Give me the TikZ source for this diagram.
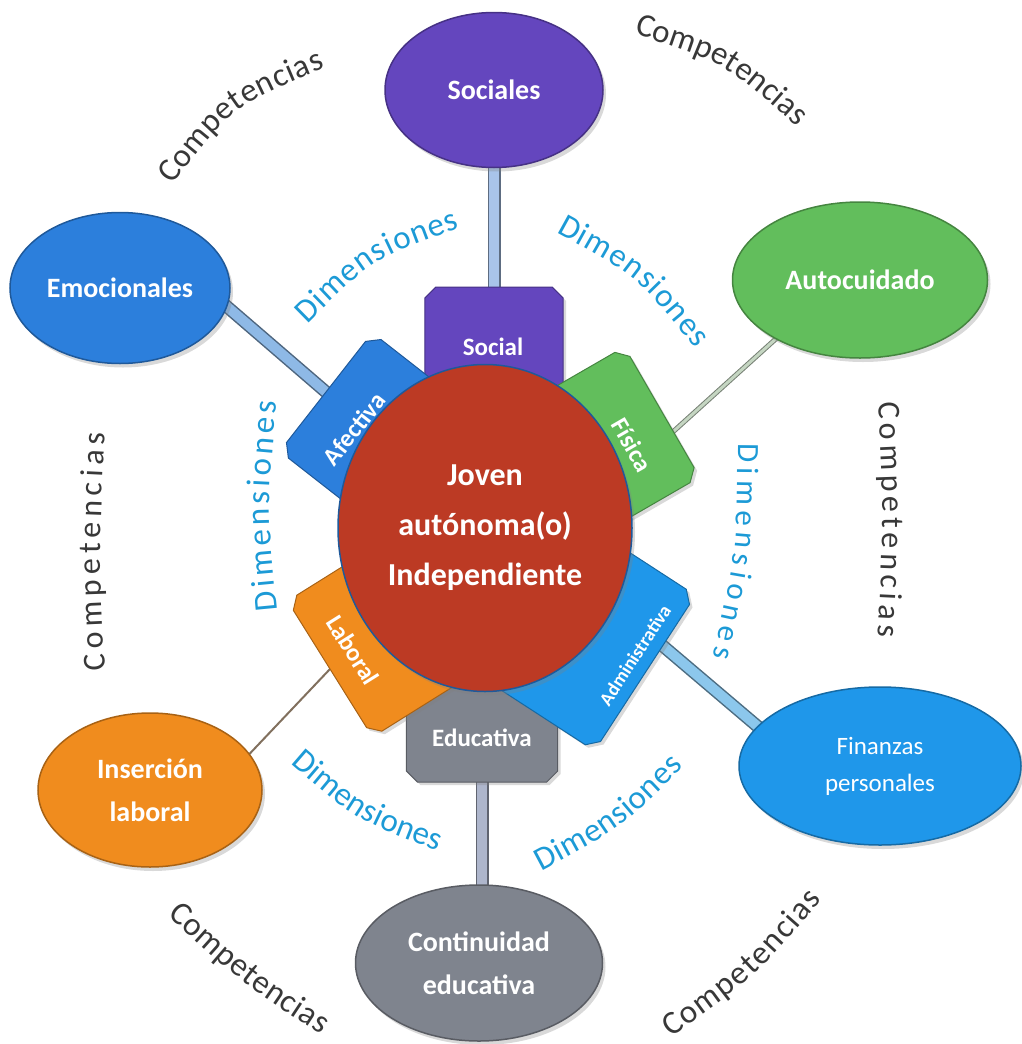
\documentclass[tikz,border=0pt]{standalone}
\usepackage{fontspec}
\setmainfont{Carlito}
\usetikzlibrary{shapes.geometric,shadows,decorations.text,calc,backgrounds}
\definecolor{socpurple}{HTML}{6446BE}
\definecolor{emoblue}{HTML}{2C7FDC}
\definecolor{autogreen}{HTML}{62BE5C}
\definecolor{finblue}{HTML}{1F97EA}
\definecolor{edugray}{HTML}{7F848E}
\definecolor{laborange}{HTML}{F08C1E}
\definecolor{jovenred}{HTML}{BC3A24}
\definecolor{dimblue}{HTML}{1C9AD6}
\definecolor{compgray}{HTML}{383838}
\definecolor{socbar}{HTML}{A9C4EA}
\definecolor{emobar}{HTML}{8EB9E6}
\definecolor{finbar}{HTML}{8CC7EC}
\definecolor{edubar}{HTML}{AEB6CC}
\definecolor{autobar}{HTML}{C5D6C2}
\newcommand\compfont[1]{\fontsize{#1}{#1}\selectfont\color{compgray}}
\newcommand\dimenfont[1]{\fontsize{#1}{#1}\selectfont\color{dimblue}}
\newcommand\bevelbox[2]{\filldraw[fill=#2, draw=#2!70!black, line width=1pt,
    drop shadow={shadow xshift=3pt, shadow yshift=-3pt, opacity=0.3}]
  ($(#1.north west)!11pt!(#1.north east)$) -- ($(#1.north east)!11pt!(#1.north west)$)
  -- ($(#1.north east)!11pt!(#1.south east)$) -- ($(#1.south east)!11pt!(#1.north east)$)
  -- ($(#1.south east)!11pt!(#1.south west)$) -- ($(#1.south west)!11pt!(#1.south east)$)
  -- ($(#1.south west)!11pt!(#1.north west)$) -- ($(#1.north west)!11pt!(#1.south west)$) -- cycle;}

\begin{document}
\begin{tikzpicture}
[x=1pt, y=1pt,
 competencia/.style ={ellipse, draw=#1!70!black, line width=1.5pt, fill=#1, text=white, align=center, inner sep=0pt,
 font=\bfseries\fontsize{28}{43}\selectfont, drop shadow={shadow xshift=3pt, shadow yshift=-4pt, opacity=0.3}},
 dimension/.style ={rectangle, minimum height=140pt, inner sep=0pt},
 dimlabel/.style ={text=white, inner sep=0pt, font=\bfseries\fontsize{25}{30}\selectfont},
 link/.style ={draw=#1!55!black, line width=1.5pt, double=#1, double distance=10pt},
 thinlink/.style ={draw=autobar!60!black, line width=1pt, double=autobar, double distance=3pt},
 laborline/.style ={draw=black!45!laborange!30!gray, line width=2pt},
 comptext/.style ={decorate, decoration={text along path, text align={fit to path}, text={|\compfont{#1}|Competencias}}},
 dimtext/.style ={decorate, decoration={text along path, text align={fit to path}, text={|\dimenfont{#1}|Dimensiones}}}]
\useasboundingbox (0,0) rectangle (1021,-1044);
\path (494,-90) node[competencia=socpurple, minimum width=218pt, minimum height=155pt] (sociales) {Sociales}
      (120,-288) node[competencia=emoblue, minimum width=220pt, minimum height=151pt] (emocionales) {Emocionales}
      (860,-280) node[competencia=autogreen, minimum width=255pt, minimum height=156pt] (autocuidado) {Autocuidado}
      (880,-766) node[competencia=finblue, minimum width=282pt, minimum height=158pt,
                      font=\fontsize{25}{37}\selectfont] (finanzas) {Finanzas\\personales}
      (150,-790) node[competencia=laborange, minimum width=224pt, minimum height=154pt] (insercion) {Inserción\\laboral}
      (479,-963) node[competencia=edugray, minimum width=247pt, minimum height=156pt] (continuidad) {Continuidad\\educativa};
\path (494,-287) node[dimension, minimum width=138pt, anchor=north] (social) {}
      (482,-782) node[dimension, minimum width=151pt, anchor=south] (educativa) {}
      (326,-392) node[dimension, minimum width=150pt, rotate=52, anchor=north] (afectiva) {}
      (662,-412) node[dimension, minimum width=150pt, rotate=-60, anchor=north] (fisica) {}
      (645,-673) node[dimension, minimum width=185pt, rotate=57, anchor=south] (administrativa) {}
      (330,-669) node[dimension, minimum width=160pt, rotate=-58, anchor=south] (laboral) {};
\bevelbox{social}{socpurple}
\bevelbox{educativa}{edugray}
\bevelbox{afectiva}{emoblue}
\bevelbox{fisica}{autogreen}
\bevelbox{administrativa}{finblue}
\bevelbox{laboral}{laborange}
\path (485,-528) node[ellipse, fill=jovenred, draw=emoblue!70!black, line width=1.5pt, minimum width=294pt,
      minimum height=327pt, inner sep=0pt, text=white, align=center, font=\bfseries\fontsize{32}{50}\selectfont,
      drop shadow={shadow xshift=3pt, shadow yshift=-4pt, opacity=0.3}] (joven) {Joven\\autónoma(o)\\Independiente};
\path (493,-347) node[dimlabel] (tsocial) {Social}
      (482,-738) node[dimlabel] (teducativa) {Educativa}
      (354,-429) node[dimlabel, rotate=52] (tafectiva) {Afectiva}
      (632,-445) node[dimlabel, rotate=-60] (tfisica) {Física}
      (635,-655) node[dimlabel, rotate=57, font=\bfseries\fontsize{19}{23}\selectfont] (tadministrativa) {Administrativa}
      (353,-650) node[dimlabel, rotate=-58] (tlaboral) {Laboral};
\coordinate (fislink) at ($(fisica.north)!0.3!(fisica.north east)$);
\coordinate (admlink) at ($(administrativa.south)!0.35!(administrativa.south east)$);
\begin{scope}[on background layer]
\draw[link=socbar] (sociales.center) -- (sociales.center |- social.center);
\draw[link=emobar] ($(afectiva.north)!1.1!(emocionales.-10)$) -- ($(emocionales.-10)!1.1!(afectiva.north)$);
\draw[thinlink] ($(autocuidado.215)!1.1!(fislink)$) -- ($(fislink)!1.1!(autocuidado.215)$);
\draw[link=finbar] ($(finanzas.162)!1.1!(admlink)$) -- ($(admlink)!1.1!(finanzas.162)$);
\draw[link=edubar] (educativa.center) -- (educativa.center |- continuidad.center);
\draw[laborline] ($(insercion.20)!1.1!(laboral.south)$) -- ($(laboral.south)!1.1!(insercion.20)$);
\end{scope}
\path[comptext=33] (172,-185) .. controls (233,-106) .. (325,-68);
\path[comptext=33] (634,-34) .. controls (725,-63) .. (797,-127);
\path[comptext=32] (105,-670) .. controls (99,-551) .. (105,-433);
\path[comptext=32] (878,-402) .. controls (884,-520) .. (878,-637);
\path[comptext=33] (167,-915) .. controls (239,-981) .. (321,-1035);
\path[comptext=33] (671,-1037) .. controls (755,-977) .. (822,-900);
\path[dimtext=33] (307,-324) .. controls (373,-259) .. (460,-228);
\path[dimtext=33] (556,-232) .. controls (638,-277) .. (696,-349);
\path[dimtext=33] (277,-610) .. controls (267,-506) .. (277,-402);
\path[dimtext=31] (738,-443) .. controls (737,-551) .. (713,-657);
\path[dimtext=33] (290,-763) .. controls (356,-820) .. (438,-851);
\path[dimtext=33] (541,-871) .. controls (620,-829) .. (684,-767);
\end{tikzpicture}
\end{document}
